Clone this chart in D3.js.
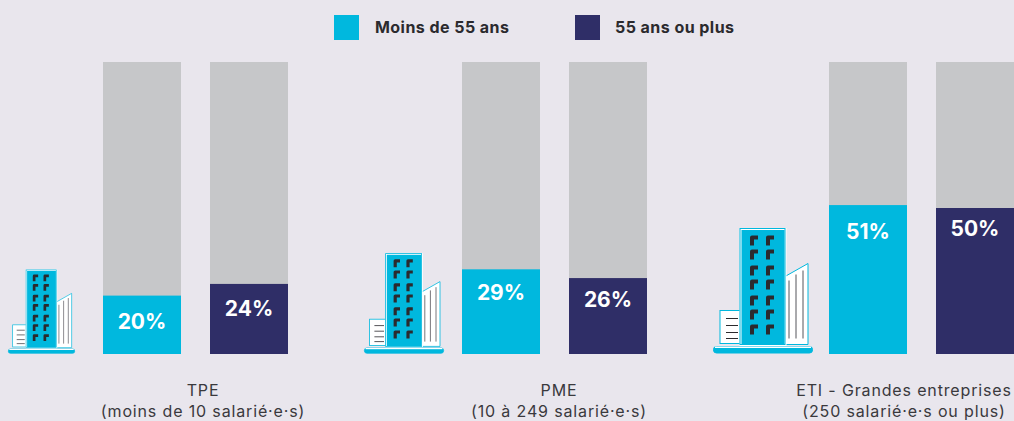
<!DOCTYPE html>
<html lang="fr">
<head>
<meta charset="utf-8">
<title>Part des salariés par taille d'entreprise</title>
<script src="https://cdn.jsdelivr.net/npm/d3@7"></script>
<style>
    html, body { margin: 0; padding: 0; background: #e9e6ed; overflow: hidden; }
    svg { display: block; font-family: Inter, sans-serif; }
    .legend text { font-size: 16px; font-weight: 700; fill: #2b2a2e; letter-spacing: .45px; }
    .value { font-size: 21px; font-weight: 700; fill: #fff; text-anchor: middle; }
    .cat { font-size: 16px; fill: #3a393d; text-anchor: middle; letter-spacing: .85px; }
</style>
</head>
<body>
<script>
    // DATA
    const categories = ["TPE", "PME", "ETI"];
    const categoryLines = [
        ["TPE", "(moins de 10 salarié·e·s)"],
        ["PME", "(10 à 249 salarié·e·s)"],
        ["ETI - Grandes entreprises", "(250 salarié·e·s ou plus)"]
    ];
    const seriesNames = ["Moins de 55 ans", "55 ans ou plus"];
    const under55 = [20, 29, 51];
    const over55 = [24, 26, 50];

    const width = 1014, height = 421;
    const colors = ["#00b8de", "#2f2e67"];
    const grey = "#c6c7c9";

    const svg = d3.select("body").append("svg")
        .attr("width", width)
        .attr("height", height);

    const y = d3.scaleLinear().domain([0, 100]).range([354, 62]);
    const groupX = d3.scaleOrdinal().domain(categories).range([103, 462, 829]);
    const barX = d3.scaleBand().domain(seriesNames).range([0, 185]).paddingInner(29 / 107);

    // legend
    const legendX = d3.scaleOrdinal().domain(seriesNames).range([334, 575]);
    const legend = svg.append("g").attr("class", "legend");
    legend.selectAll("rect")
        .data(seriesNames)
        .join("rect")
        .attr("x", d => legendX(d))
        .attr("y", 15)
        .attr("width", 25)
        .attr("height", 25)
        .attr("fill", (d, i) => colors[i]);
    legend.selectAll("text")
        .data(seriesNames)
        .join("text")
        .attr("x", (d, i) => legendX(d) + (i ? 40 : 41))
        .attr("y", 33)
        .text(d => d);

    // bars
    const rows = categories.flatMap((c, i) => [
        {cat: c, series: seriesNames[0], value: under55[i], color: colors[0]},
        {cat: c, series: seriesNames[1], value: over55[i], color: colors[1]}
    ]);
    const xOf = d => groupX(d.cat) + barX(d.series);

    svg.append("g").selectAll("rect")
        .data(rows)
        .join("rect")
        .attr("x", xOf)
        .attr("y", y(100))
        .attr("width", barX.bandwidth())
        .attr("height", y(0) - y(100))
        .attr("fill", grey);

    svg.append("g").selectAll("rect")
        .data(rows)
        .join("rect")
        .attr("x", xOf)
        .attr("y", d => y(d.value))
        .attr("width", barX.bandwidth())
        .attr("height", d => y(0) - y(d.value))
        .attr("fill", d => d.color);

    // the labels do not sit at a fixed distance from the bar top in the original
    const labelNudge = [0, -1, -2, -4, 1, -5];
    svg.append("g").selectAll("text")
        .data(rows)
        .join("text")
        .attr("class", "value")
        .attr("x", d => xOf(d) + barX.bandwidth() / 2)
        .attr("y", (d, i) => y(d.value) + 33 + labelNudge[i])
        .text(d => d.value + "%");

    // category labels
    const labelX = d3.scaleOrdinal().domain(categories).range([203, 559, 904]);
    const cat = svg.append("g").selectAll("text")
        .data(categories)
        .join("text")
        .attr("class", "cat")
        .attr("y", 396);
    cat.append("tspan")
        .attr("x", d => labelX(d))
        .text((d, i) => categoryLines[i][0]);
    cat.append("tspan")
        .attr("x", d => labelX(d))
        .attr("dy", 21)
        .text((d, i) => categoryLines[i][1]);

    // building icon, drawn in a 100 x 125 box
    function building(g) {
        const cyan = colors[0];
        g.append("rect").attr("x", 7).attr("y", 82).attr("width", 21).attr("height", 33)
            .attr("fill", "#fff").attr("stroke", cyan).attr("stroke-width", 1);
        g.selectAll("line.small")
            .data([90, 97, 104, 110])
            .join("line")
            .attr("class", "small")
            .attr("x1", 13).attr("x2", 25)
            .attr("y1", d => d).attr("y2", d => d)
            .attr("stroke", "#2b2a2e").attr("stroke-width", 1);
        g.append("path").attr("d", "M72 48L95 35V116H72Z")
            .attr("fill", "#fff").attr("stroke", cyan).attr("stroke-width", 1);
        g.selectAll("line.tall")
            .data([[76, 52], [83, 46], [90, 42]])
            .join("line")
            .attr("class", "tall")
            .attr("x1", d => d[0]).attr("x2", d => d[0])
            .attr("y1", d => d[1]).attr("y2", 110)
            .attr("stroke", "#55545a").attr("stroke-width", 1);
        g.append("rect").attr("x", 27.5).attr("y", .5).attr("width", 45).attr("height", 116)
            .attr("fill", cyan).attr("stroke", "#fff").attr("stroke-width", 2);
        g.append("rect").attr("x", 27).attr("y", 0).attr("width", 45).attr("height", 116)
            .attr("fill", "none").attr("stroke", cyan).attr("stroke-width", 1);
        const win = d3.cross([37, 53], [7, 21, 37, 51, 67, 81, 96]);
        g.selectAll("path.win")
            .data(win)
            .join("path")
            .attr("class", "win")
            .attr("transform", d => `translate(${d[0]},${d[1]})`)
            .attr("d", "M0 10V2Q0 0 2 0H8V4H4V10Z")
            .attr("fill", "#2b2a2e");
        g.append("rect").attr("x", .5).attr("y", 118).attr("width", 99).attr("height", 6.5).attr("rx", 3)
            .attr("fill", cyan).attr("stroke", cyan);
        g.append("rect").attr("x", 2).attr("y", 118).attr("width", 96).attr("height", 1.5)
            .attr("fill", "#fff");
    }

    const iconScale = d3.scaleOrdinal().domain(categories).range([.67, .8, 1]);
    const iconX = d3.scaleOrdinal().domain(categories).range([8, 364, 713]);
    svg.append("g").selectAll("g")
        .data(categories)
        .join("g")
        .attr("transform", d => `translate(${iconX(d)},${354 - 125.5 * iconScale(d)}) scale(${iconScale(d)})`)
        .each(function() { building(d3.select(this)); });
</script>
</body>
</html>
